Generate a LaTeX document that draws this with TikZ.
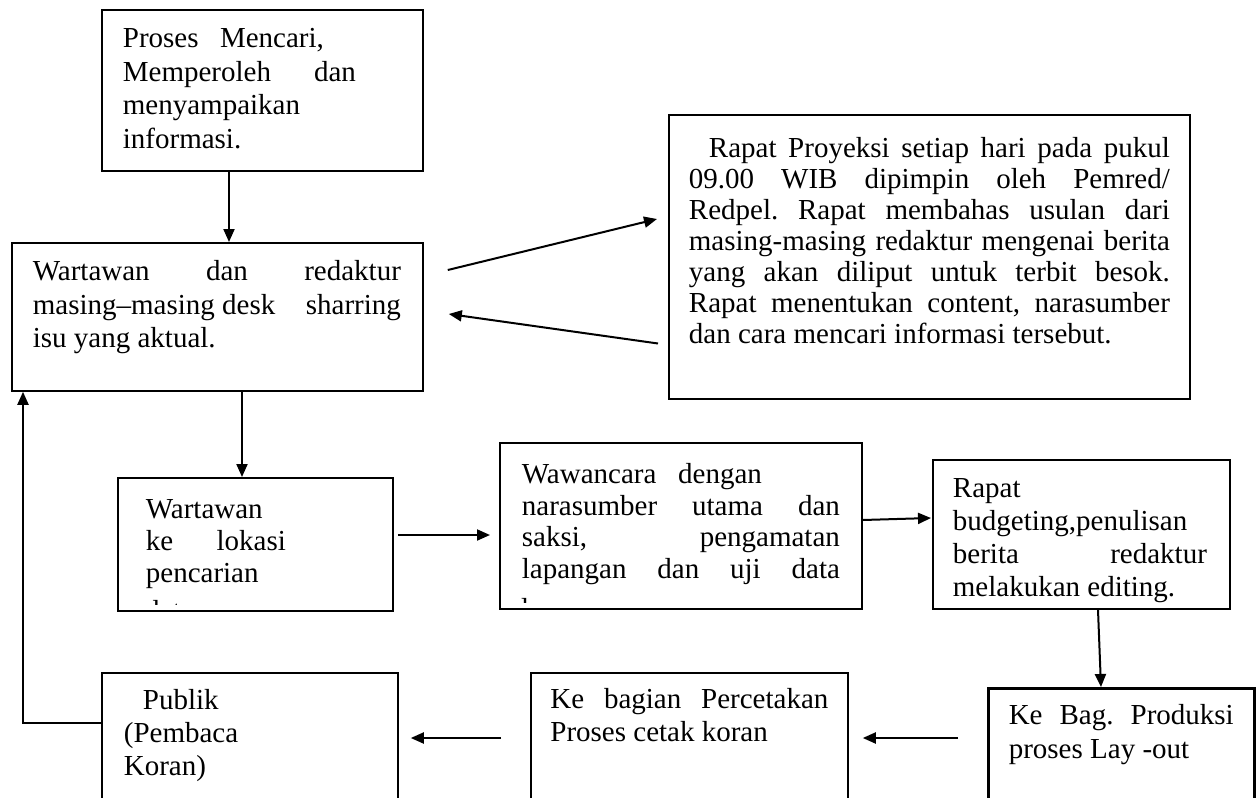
\documentclass[tikz,border=0pt]{standalone}
\usepackage{fontspec}
\setmainfont{Liberation Serif}
\usetikzlibrary{arrows.meta,calc}
\frenchspacing
\newcommand\bodyfont[1]{\fontsize{29}{#1}\selectfont\frenchspacing}
\newcommand\jline[2]{\makebox[#1pt][s]{#2}}
\tikzset{
  box/.style={draw, line width=1.8pt, anchor=north west, inner ysep=0pt},
  arr/.style={line width=2pt, -{Triangle[length=13pt,width=11pt]}},
}
\begin{document}
\begin{tikzpicture}[x=1pt,y=-1pt]
\path[use as bounding box] (0,0) rectangle (1256,798);
\fill[white] (0,0) rectangle (1256,798);
\clip (0,0) rectangle (1256,798);

% boxes
\node[box, inner xsep=21pt, text height=38pt, text depth=123pt] (b1) at (101,9)
  {\parbox[t]{279pt}{\bodyfont{33.5}\jline{201}{Proses Mencari,}\\\jline{233}{Memperoleh dan}\\menyampaikan\\informasi.}};

\node[box, inner xsep=21pt, text height=38pt, text depth=110pt] (b2) at (11,242)
  {\parbox[t]{369pt}{\bodyfont{33.5}\jline{368}{Wartawan dan redaktur}\\\jline{368}{masing–masing desk\hfill sharring}\\isu yang aktual.}};

\node[box, inner xsep=20pt, text height=43pt, text depth=241pt] (b3) at (668,114)
  {\parbox[t]{481pt}{\bodyfont{31}\hspace*{20pt}\jline{461}{Rapat Proyeksi setiap hari pada pukul}\\
  \jline{481}{09.00 WIB dipimpin oleh Pemred/}\\
  \jline{481}{Redpel. Rapat membahas usulan dari}\\
  \jline{481}{masing-masing redaktur mengenai berita}\\
  \jline{481}{yang akan diliput untuk terbit besok.}\\
  \jline{481}{Rapat menentukan content, narasumber}\\
  dan cara mencari informasi tersebut.}};

\node[box, inner xsep=28pt, text height=41pt, text depth=92pt] (b4) at (117,477)
  {\parbox[t]{219pt}{\bodyfont{32}Wartawan\\\jline{140}{ke lokasi}\\pencarian}};

\node[box, inner xsep=22pt, text height=41pt, text depth=125pt] (b5) at (499,442)
  {\parbox[t]{318pt}{\bodyfont{31.5}\jline{240}{Wawancara dengan}\\\jline{318}{narasumber utama dan}\\\jline{318}{saksi, pengamatan}\\\jline{318}{lapangan dan uji data}}};

\node[box, inner xsep=20pt, text height=38pt, text depth=111pt] (b6) at (932,459)
  {\parbox[t]{257pt}{\bodyfont{32.7}Rapat\\budgeting,penulisan\\\jline{254}{berita redaktur}\\melakukan editing.}};

\node[box, line width=2.6pt, inner xsep=20.5pt, text height=36pt, text depth=107pt] (b7) at (987,687)
  {\parbox[t]{225pt}{\bodyfont{34}\jline{225}{Ke Bag. Produksi}\\proses Lay -out}};

\node[box, inner xsep=19.5pt, text height=36pt, text depth=122pt] (b8) at (530,672)
  {\parbox[t]{278pt}{\bodyfont{33}\jline{278}{Ke bagian Percetakan}\\Proses cetak koran}};

\node[box, inner xsep=22pt, text height=37pt, text depth=121pt] (b9) at (101,672)
  {\parbox[t]{252pt}{\bodyfont{33}\hspace*{19pt}Publik\\(Pembaca\\Koran)}};

% text lines cut off by the box edges
\begin{scope}
  \clip ($(b4.north west)+(5,5)$) rectangle ($(b4.south east)+(-5,-7)$);
  \node[anchor=base west, inner sep=0pt] (b4x) at (145,620) {\bodyfont{32}data};
\end{scope}
\begin{scope}
  \clip ($(b5.north west)+(5,5)$) rectangle ($(b5.south east)+(-5,-7)$);
  \node[anchor=base west, inner sep=0pt] (b5x) at (521,618.5) {\bodyfont{32}lapangan};
\end{scope}

% connectors
\draw[arr] ($(b1.south west)+(128,0)$) -- ($(b2.north west)+(218,0)$);
\draw[arr] ($(b2.north east)+(24,28)$) -- ($(b3.north west)+(-11,105)$);
\draw[arr] ($(b3.north west)+(-10,229.5)$) -- ($(b2.north east)+(25,72)$);
\draw[arr] ($(b2.south west)+(231,0)$) -- ($(b4.north west)+(125,0)$);
\draw[arr] ($(b4.north east)+(4,58)$) -- ($(b5.north west)+(-9,93)$);
\draw[arr] ($(b5.north east)+(0,78)$) -- ($(b6.north west)+(-1,59)$);
\draw[arr] ($(b6.south west)+(166,0)$) -- ($(b7.north west)+(114,0)$);
\draw[arr] ($(b7.north west)+(-29,51)$) -- ($(b8.north east)+(14,66)$);
\draw[arr] ($(b8.north west)+(-29,66)$) -- ($(b9.north east)+(12,66)$);
\draw[arr] ($(b9.north west)+(0,51)$) -| ($(b2.south west)+(12,0)$);
\end{tikzpicture}
\end{document}
